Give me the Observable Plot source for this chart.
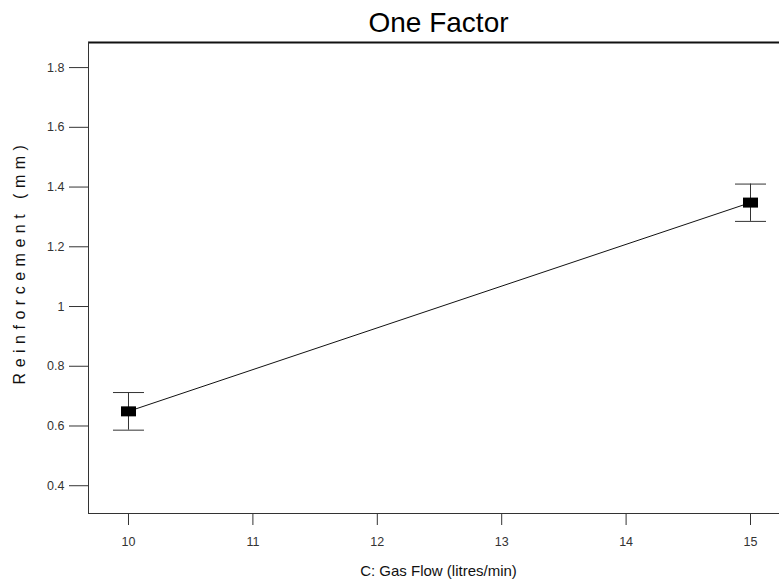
<!DOCTYPE html>
<html>
<head>
<meta charset="utf-8">
<script src="https://cdn.jsdelivr.net/npm/d3@7"></script>
<script src="https://cdn.jsdelivr.net/npm/@observablehq/plot@0.6"></script>
<style>
  html, body { margin: 0; padding: 0; background: #fff; }
  .ylab text { letter-spacing: 5.5px; }
  g[aria-label$="tick label"] { font-size: 12.5px; }
</style>
</head>
<body>
<div id="chart"></div>
<script>
const gasFlow = [10, 15];
const reinforcement = [0.649, 1.348];
const errLow = [0.586, 1.285];
const errHigh = [0.712, 1.410];
const xTicks = [10, 11, 12, 13, 14, 15];
const yTicks = [0.4, 0.6, 0.8, 1, 1.2, 1.4, 1.6, 1.8];
const title = "One Factor";
const xLabel = "C: Gas Flow (litres/min)";
const yLabel = "Reinforcement (mm)";

const data = gasFlow.map((x, i) => ({x, y: reinforcement[i], lo: errLow[i], hi: errHigh[i]}));
const xDomain = [9.6785, 15.2331];
const yDomain = [0.307, 1.884];

const capSymbol = {draw(ctx) { ctx.moveTo(-15.5, 0); ctx.lineTo(15.5, 0); }};
const boxSymbol = {draw(ctx) { ctx.rect(-7.5, -5, 15, 10); }};

const chart = Plot.plot({
  width: 779,
  height: 582,
  marginTop: 42,
  marginBottom: 69,
  marginLeft: 88,
  marginRight: 0,
  style: {fontFamily: "'Liberation Sans', Arial, sans-serif", fontSize: "12px", background: "#fff"},
  x: {domain: xDomain},
  y: {domain: yDomain},
  marks: [
    Plot.axisY({ticks: yTicks, tickSize: 19, tickPadding: 5, tickFormat: d => String(d), label: null, fill: "#333", stroke: "#333"}),
    Plot.axisX({ticks: xTicks, tickSize: 12, tickPadding: 12, tickFormat: d => String(d), label: null, fill: "#333", stroke: "#333"}),
    Plot.ruleY([yDomain[1]], {stroke: "#111", strokeWidth: 2}),
    Plot.ruleY([yDomain[0]], {stroke: "#333", strokeWidth: 1}),
    Plot.ruleX([xDomain[0]], {stroke: "#333", strokeWidth: 1}),
    Plot.ruleX(data, {x: "x", y1: "lo", y2: "hi", stroke: "#333", strokeWidth: 1}),
    Plot.dot(data, {x: "x", y: "lo", symbol: capSymbol, r: 5, stroke: "#333", strokeWidth: 1, fill: "none"}),
    Plot.dot(data, {x: "x", y: "hi", symbol: capSymbol, r: 5, stroke: "#333", strokeWidth: 1, fill: "none"}),
    Plot.line(data, {x: "x", y: "y", stroke: "#111", strokeWidth: 1}),
    Plot.dot(data, {x: "x", y: "y", symbol: boxSymbol, r: 5, fill: "#000", stroke: "none"}),
    Plot.text([title], {frameAnchor: "top", dx: 4.5, dy: -11, text: d => d, fontSize: 28, fill: "#000", lineAnchor: "bottom"}),
    Plot.text([xLabel], {frameAnchor: "bottom", dx: 4.5, dy: 62, text: d => d, fontSize: 15, fill: "#111"}),
    Plot.text([yLabel], {frameAnchor: "left", dx: -69, dy: -16, rotate: -90, textAnchor: "middle", text: d => d, fontSize: 16, fill: "#111", className: "ylab"})
  ]
});
document.getElementById("chart").appendChild(chart);
</script>
</body>
</html>
